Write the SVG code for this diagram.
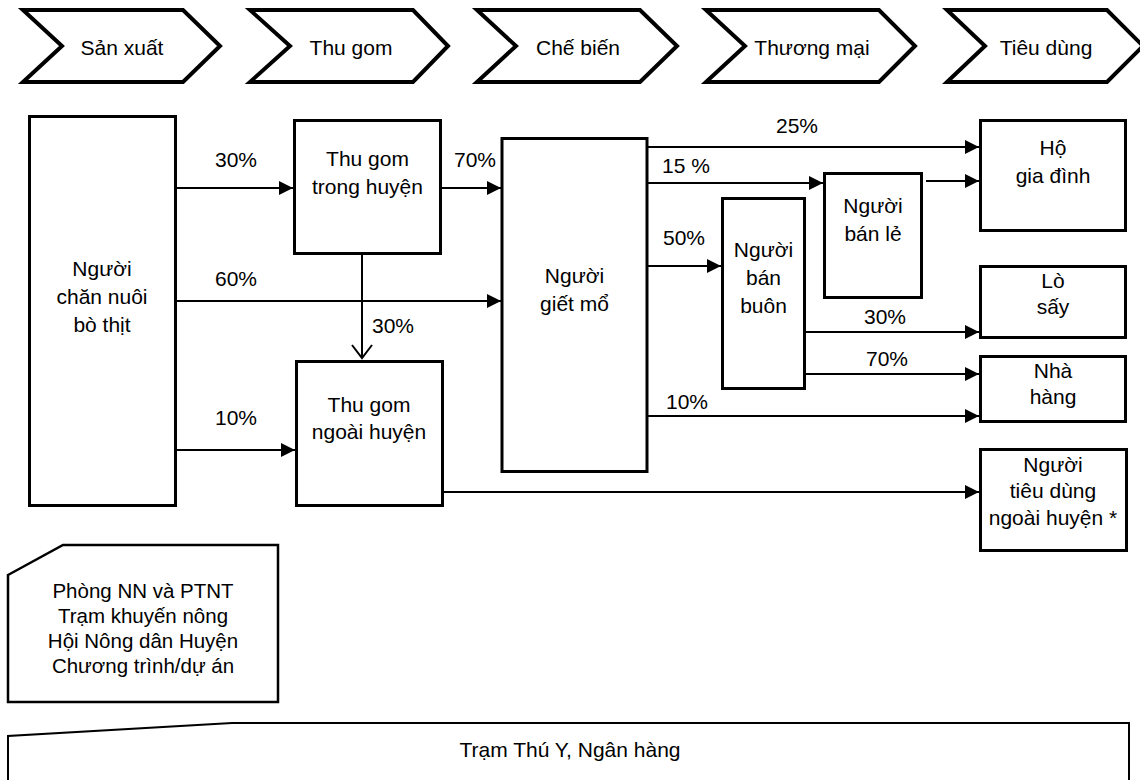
<svg xmlns="http://www.w3.org/2000/svg" width="1140" height="780" viewBox="0 0 1140 780">
<style>
  text { font-family: "Liberation Sans", Arial, sans-serif; font-size: 21px; fill: #000; text-anchor: middle; }
  .chev { fill: #fff; stroke: #000; stroke-width: 4; stroke-linejoin: miter; }
  .box { fill: #fff; stroke: #000; stroke-width: 3; }
  .note { fill: #fff; stroke: #000; stroke-width: 2.5; stroke-linejoin: miter; }
  .conn { fill: none; stroke: #000; stroke-width: 2; }
  .small { font-size: 20.5px; }
</style>
<defs>
  <marker id="arr" markerUnits="userSpaceOnUse" markerWidth="14" markerHeight="14" refX="14" refY="7" orient="auto">
    <path d="M0,0 L14,7 L0,14 Z" fill="#000"/>
  </marker>
</defs>
<rect width="1140" height="780" fill="#fff"/>

<g id="stage-san-xuat">
  <path class="chev" d="M23,10 L183,10 L220,46 L183,82 L23,82 L62,46 Z"/>
  <text x="122" y="55">Sản xuất</text>
</g>
<g id="stage-thu-gom">
  <path class="chev" d="M250,10 L413,10 L448,46 L413,82 L250,82 L290,46 Z"/>
  <text x="351" y="55">Thu gom</text>
</g>
<g id="stage-che-bien">
  <path class="chev" d="M477,10 L640,10 L677,46 L640,82 L477,82 L516,46 Z"/>
  <text x="578" y="55">Chế biến</text>
</g>
<g id="stage-thuong-mai">
  <path class="chev" d="M706,10 L879,10 L915,46 L879,82 L706,82 L745,46 Z"/>
  <text x="812" y="55">Thương mại</text>
</g>
<g id="stage-tieu-dung">
  <path class="chev" d="M947,10 L1107,10 L1143,46 L1107,82 L947,82 L985,46 Z"/>
  <text x="1046" y="55">Tiêu dùng</text>
</g>

<g id="connectors">
  <line class="conn" x1="177" y1="188" x2="293" y2="188" marker-end="url(#arr)"/>
  <line class="conn" x1="442" y1="188" x2="501" y2="188" marker-end="url(#arr)"/>
  <line class="conn" x1="177" y1="301" x2="501" y2="301" marker-end="url(#arr)"/>
  <line class="conn" x1="177" y1="450" x2="295" y2="450" marker-end="url(#arr)"/>
  <line class="conn" x1="362" y1="255" x2="362" y2="358"/>
  <polyline class="conn" points="352,345 362,358 372,345"/>
  <line class="conn" x1="443" y1="492" x2="979" y2="492" marker-end="url(#arr)"/>
  <line class="conn" x1="648" y1="147" x2="979" y2="147" marker-end="url(#arr)"/>
  <line class="conn" x1="648" y1="183" x2="823" y2="183" marker-end="url(#arr)"/>
  <line class="conn" x1="926" y1="181" x2="979" y2="181" marker-end="url(#arr)"/>
  <line class="conn" x1="648" y1="266" x2="721" y2="266" marker-end="url(#arr)"/>
  <line class="conn" x1="806" y1="332" x2="979" y2="332" marker-end="url(#arr)"/>
  <line class="conn" x1="806" y1="374" x2="979" y2="374" marker-end="url(#arr)"/>
  <line class="conn" x1="648" y1="416" x2="979" y2="416" marker-end="url(#arr)"/>
  <text x="236" y="167">30%</text>
  <text x="475" y="167">70%</text>
  <text x="236" y="286">60%</text>
  <text x="393" y="333">30%</text>
  <text x="236" y="425">10%</text>
  <text x="797" y="133">25%</text>
  <text x="686" y="173">15 %</text>
  <text x="684" y="245">50%</text>
  <text x="687" y="409">10%</text>
  <text x="885" y="324">30%</text>
  <text x="887" y="366">70%</text>
</g>

<g id="nguoi-chan-nuoi">
  <rect class="box" x="29.5" y="116.5" width="146" height="389"/>
  <text x="102" y="276">Người</text>
  <text x="102" y="304">chăn nuôi</text>
  <text x="102" y="332">bò thịt</text>
</g>
<g id="thu-gom-trong-huyen">
  <rect class="box" x="294.5" y="120.5" width="146" height="133"/>
  <text x="367.5" y="166">Thu gom</text>
  <text x="367.5" y="194">trong huyện</text>
</g>
<g id="thu-gom-ngoai-huyen">
  <rect class="box" x="296.5" y="361.5" width="146" height="144"/>
  <text x="369" y="412">Thu gom</text>
  <text x="369" y="439">ngoài huyện</text>
</g>
<g id="nguoi-giet-mo">
  <rect class="box" x="502" y="138.5" width="145" height="333"/>
  <text x="574.5" y="283">Người</text>
  <text x="574.5" y="311">giết mổ</text>
</g>
<g id="nguoi-ban-buon">
  <rect class="box" x="722.5" y="198.5" width="82" height="190"/>
  <text x="763.5" y="257">Người</text>
  <text x="763.5" y="285">bán</text>
  <text x="763.5" y="313">buôn</text>
</g>
<g id="nguoi-ban-le">
  <rect class="box" x="824.5" y="173.5" width="97" height="124"/>
  <text x="873" y="213">Người</text>
  <text x="873" y="241">bán lẻ</text>
</g>
<g id="ho-gia-dinh">
  <rect class="box" x="980.5" y="120.5" width="145" height="110"/>
  <text x="1053" y="155">Hộ</text>
  <text x="1053" y="183">gia đình</text>
</g>
<g id="lo-say">
  <rect class="box" x="980.5" y="266.5" width="145" height="71"/>
  <text x="1053" y="288">Lò</text>
  <text x="1053" y="314">sấy</text>
</g>
<g id="nha-hang">
  <rect class="box" x="980.5" y="356.5" width="145" height="65"/>
  <text x="1053" y="378">Nhà</text>
  <text x="1053" y="404">hàng</text>
</g>
<g id="nguoi-tieu-dung-ngoai-huyen">
  <rect class="box" x="980.5" y="449.5" width="146" height="101"/>
  <text x="1053" y="472">Người</text>
  <text x="1053" y="498">tiêu dùng</text>
  <text x="1053" y="525">ngoài huyện *</text>
</g>

<g id="ho-tro">
  <path class="note" d="M8,575 L63,545 L278,545 L278,702 L8,702 Z"/>
  <text class="small" x="143" y="598">Phòng NN và PTNT</text>
  <text class="small" x="143" y="623">Trạm khuyến nông</text>
  <text class="small" x="143" y="648">Hội Nông dân Huyện</text>
  <text class="small" x="143" y="673">Chương trình/dự án</text>
</g>
<g id="tram-thu-y">
  <path class="conn" d="M8,790 L8,736 L232,723 L1129,723 L1129,790"/>
  <text x="570" y="757">Trạm Thú Y, Ngân hàng</text>
</g>
</svg>
